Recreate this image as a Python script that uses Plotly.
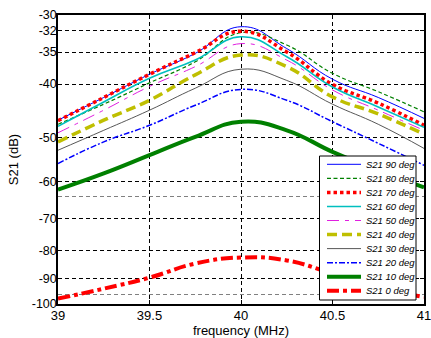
import plotly.graph_objects as go
import numpy as np

# ---------------- data (S21 in dB) ----------------
freq = [39.0, 39.25, 39.5, 39.75, 40.0, 40.25, 40.5, 40.75, 41.0]

s21_90 = [-46.5, -42.3, -38.4, -35.2, -31.5, -34.5, -39.2, -42.3, -46.15]
s21_80 = [-47.3, -43.5, -39.8, -36.45, -32.3, -34.0, -38.25, -41.3, -44.9]
s21_70 = [-46.6, -42.3, -38.4, -35.1, -32.1, -35.0, -40.05, -43.3, -47.5]
s21_60 = [-47.7, -43.1, -39.05, -36.2, -32.85, -35.7, -40.5, -44.0, -47.9]
s21_50 = [-49.0, -44.6, -40.4, -37.2, -33.8, -36.2, -41.0, -44.6, -48.5]
s21_40 = [-50.9, -46.5, -42.8, -38.5, -35.45, -37.2, -42.2, -45.3, -49.3]
s21_30 = [-52.7, -48.5, -44.6, -40.7, -37.6, -39.4, -43.5, -47.3, -52.3]
s21_20 = [-55.7, -50.9, -47.5, -43.7, -40.9, -42.8, -46.8, -51.2, -56.1]
s21_10 = [-62.1, -58.05, -53.8, -49.85, -46.8, -48.5, -53.05, -57.3, -61.5]
s21_0 = [-97.8, -93.8, -89.6, -84.5, -82.4, -83.4, -88.1, -93.3, -97.1]

series_names = ["S21 90 deg", "S21 80 deg", "S21 70 deg", "S21 60 deg", "S21 50 deg",
                "S21 40 deg", "S21 30 deg", "S21 20 deg", "S21 10 deg", "S21 0 deg"]
series_values = [s21_90, s21_80, s21_70, s21_60, s21_50, s21_40, s21_30, s21_20, s21_10, s21_0]

y_tick_vals = [-30, -32, -35, -40, -50, -60, -70, -80, -90, -100]
y_tick_labels = ["-30", "-32", "-35", "-40", "-50", "-60", "-70", "-80", "-90", "-100"]
y_extra_grid = [-64, -96]
x_tick_vals = [39, 39.5, 40, 40.5, 41]
x_tick_labels = ["39", "39.5", "40", "40.5", "41"]

# ---------------- styles ----------------
styles = [
    dict(color="#0000FF", width=1, dash="solid"),
    dict(color="#008000", width=1.2, dash="4px,2.5px"),
    dict(color="#FF0000", width=3.5, dash="3.5px,3px"),
    dict(color="#00BFBF", width=1.6, dash="solid"),
    dict(color="#E020E0", width=1, dash="12px,6px,4px,6px"),
    dict(color="#BFBF00", width=3.5, dash="10px,5px"),
    dict(color="#444444", width=0.9, dash="solid"),
    dict(color="#0000FF", width=1.5, dash="6px,2px,2px,2px"),
    dict(color="#008000", width=4, dash="solid"),
    dict(color="#FF0000", width=4, dash="12px,4px,4px,4px"),
]

W, H = 431, 338
L, R, T, B = 58, 7, 15, 34
pw, ph = W - L - R, H - T - B

def px_x(px):
    return (px - L) / pw

def px_y(py):
    return (H - B - py) / ph

fig = go.Figure()
for name, vals, st in zip(series_names, series_values, styles):
    fig.add_trace(go.Scatter(
        x=freq, y=-np.array(vals), mode="lines", name=name,
        line=dict(color=st["color"], width=st["width"], dash=st["dash"], shape="spline", smoothing=1.3),
        showlegend=False,
    ))

font_family = "Liberation Sans, Arial, sans-serif"

fig.update_xaxes(
    range=[39, 41], tickvals=x_tick_vals, ticktext=x_tick_labels,
    showline=True, linecolor="black", linewidth=1.5, mirror="allticks",
    ticks="inside", ticklen=4, tickcolor="black",
    showgrid=True, gridcolor="black", gridwidth=1, griddash="4px,3px",
    zeroline=False, automargin=False, ticklabelstandoff=-1, ticklabeloverflow="allow",
    tickfont=dict(family=font_family, size=13, color="black"),
    title=dict(text="frequency (MHz)", font=dict(family=font_family, size=13, color="black"), standoff=5),
)
fig.update_yaxes(
    type="log", range=[np.log10(100), np.log10(30)],
    tickvals=[-v for v in y_tick_vals], ticktext=y_tick_labels,
    showline=True, linecolor="black", linewidth=1.5, mirror="allticks",
    ticks="inside", ticklen=4, tickcolor="black",
    showgrid=True, gridcolor="black", gridwidth=1, griddash="4px,3px",
    minor=dict(tickmode="array", tickvals=[-v for v in y_extra_grid], showgrid=True,
               gridcolor="#808080", gridwidth=1, griddash="4px,3px", ticks=""),
    zeroline=False, automargin=False, ticklabelstandoff=-3, ticklabeloverflow="allow",
    tickfont=dict(family=font_family, size=12.5, color="black"),
    title=dict(text="S21 (dB)", font=dict(family=font_family, size=13, color="black"), standoff=10),
)

# ---------------- manual legend ----------------
box_x0, box_x1, box_y0, box_y1 = 319.5, 416, 156, 300
shapes = [dict(type="rect", xref="paper", yref="paper", layer="above",
               x0=px_x(box_x0), x1=px_x(box_x1), y0=px_y(box_y1), y1=px_y(box_y0),
               line=dict(color="black", width=1), fillcolor="white")]
annotations = []
row0, row_step = 164.3, 14.05
for i, (name, st) in enumerate(zip(series_names, styles)):
    ry = row0 + i * row_step
    shapes.append(dict(type="line", xref="paper", yref="paper", layer="above",
                       x0=px_x(327), x1=px_x(361), y0=px_y(ry), y1=px_y(ry),
                       line=dict(color=st["color"], width=st["width"], dash=st["dash"])))
    annotations.append(dict(xref="paper", yref="paper", x=px_x(364), y=px_y(ry),
                            xanchor="left", yanchor="middle", showarrow=False,
                            text="<i>" + name + "</i>",
                            font=dict(family=font_family, size=9.5, color="black")))

fig.update_layout(
    width=W, height=H,
    margin=dict(l=L, r=R, t=T, b=B, pad=0, autoexpand=False),
    paper_bgcolor="white", plot_bgcolor="white",
    shapes=shapes, annotations=annotations,
    showlegend=False,
)

fig.write_html("out.html",
               config={"displayModeBar": False},
               post_script="document.body.style.margin='0';document.body.style.overflow='hidden';")
